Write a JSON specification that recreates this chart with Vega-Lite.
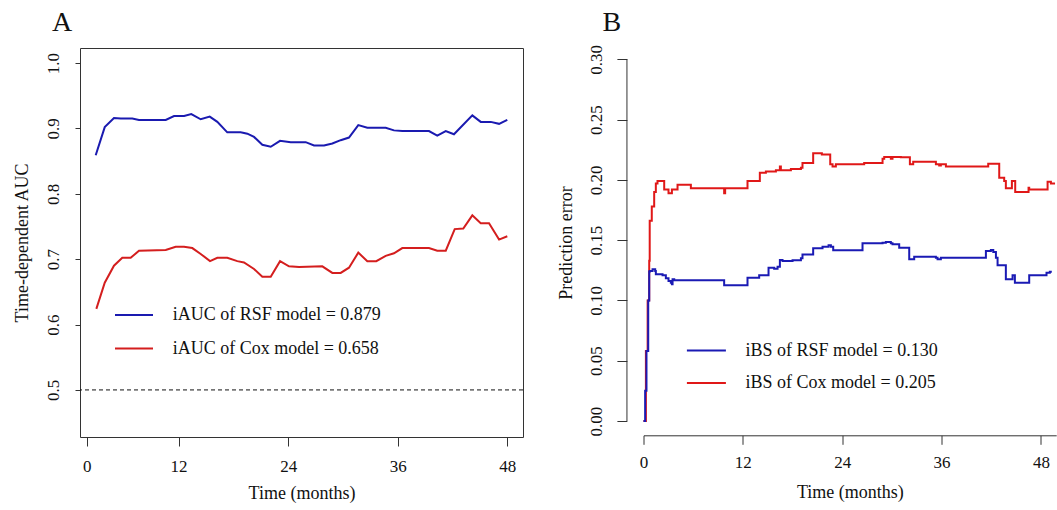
{
  "$schema": "https://vega.github.io/schema/vega-lite/v6.json",
  "background": "white",
  "padding": {"left": 12, "top": 8, "right": 0, "bottom": 0},
  "bounds": "full",
  "spacing": 33.5,
  "config": {
    "font": "Liberation Serif",
    "axis": {"labelFontSize": 17, "titleFontSize": 18, "titleFontWeight": "normal", "labelColor": "#111", "titleColor": "#111", "tickColor": "#333", "domainColor": "#333", "grid": false, "labelFlush": false, "labelOverlap": false},
    "legend": {"labelFontSize": 18, "labelFont": "Liberation Serif", "labelColor": "#111", "padding": 0, "titlePadding": 0, "labelLimit": 0},
    "title": {"fontSize": 28, "fontWeight": "normal", "anchor": "start", "frame": "group", "color": "#111"}
  },
  "datasets": {
    "aucRSF": [
      {"t": 2.92, "v": 0.859}, {"t": 3.91, "v": 0.902}, {"t": 4.92, "v": 0.916}, {"t": 5.66, "v": 0.915}, {"t": 6.93, "v": 0.915}, {"t": 7.66, "v": 0.913}, {"t": 10.59, "v": 0.913}, {"t": 11.5, "v": 0.919}, {"t": 12.6, "v": 0.919}, {"t": 13.39, "v": 0.922}, {"t": 14.42, "v": 0.914}, {"t": 15.41, "v": 0.918}, {"t": 16.24, "v": 0.910}, {"t": 17.33, "v": 0.894}, {"t": 18.8, "v": 0.894}, {"t": 19.53, "v": 0.892}, {"t": 20.26, "v": 0.887}, {"t": 21.17, "v": 0.875}, {"t": 22.09, "v": 0.872}, {"t": 23.11, "v": 0.881}, {"t": 24.28, "v": 0.879}, {"t": 25.92, "v": 0.879}, {"t": 26.83, "v": 0.874}, {"t": 27.93, "v": 0.874}, {"t": 28.84, "v": 0.877}, {"t": 29.75, "v": 0.882}, {"t": 30.66, "v": 0.886}, {"t": 31.68, "v": 0.905}, {"t": 32.67, "v": 0.901}, {"t": 34.68, "v": 0.901}, {"t": 35.59, "v": 0.897}, {"t": 36.5, "v": 0.896}, {"t": 39.42, "v": 0.896}, {"t": 40.33, "v": 0.889}, {"t": 41.26, "v": 0.896}, {"t": 42.16, "v": 0.891}, {"t": 44.17, "v": 0.920}, {"t": 45.09, "v": 0.910}, {"t": 46.19, "v": 0.910}, {"t": 47.1, "v": 0.907}, {"t": 48.0, "v": 0.913}
    ],
    "aucCox": [
      {"t": 2.99, "v": 0.624}, {"t": 3.91, "v": 0.664}, {"t": 4.92, "v": 0.690}, {"t": 5.83, "v": 0.702}, {"t": 6.75, "v": 0.702}, {"t": 7.66, "v": 0.713}, {"t": 10.59, "v": 0.714}, {"t": 11.68, "v": 0.719}, {"t": 12.59, "v": 0.719}, {"t": 13.5, "v": 0.717}, {"t": 14.42, "v": 0.708}, {"t": 15.44, "v": 0.697}, {"t": 16.24, "v": 0.702}, {"t": 17.33, "v": 0.702}, {"t": 18.43, "v": 0.697}, {"t": 19.16, "v": 0.695}, {"t": 20.26, "v": 0.685}, {"t": 21.17, "v": 0.673}, {"t": 22.09, "v": 0.673}, {"t": 23.11, "v": 0.697}, {"t": 24.09, "v": 0.689}, {"t": 25.19, "v": 0.688}, {"t": 27.74, "v": 0.689}, {"t": 28.84, "v": 0.679}, {"t": 29.75, "v": 0.679}, {"t": 30.66, "v": 0.687}, {"t": 31.68, "v": 0.710}, {"t": 32.67, "v": 0.697}, {"t": 33.65, "v": 0.697}, {"t": 34.68, "v": 0.705}, {"t": 35.59, "v": 0.709}, {"t": 36.5, "v": 0.717}, {"t": 39.42, "v": 0.717}, {"t": 40.33, "v": 0.713}, {"t": 41.26, "v": 0.713}, {"t": 42.24, "v": 0.746}, {"t": 43.18, "v": 0.747}, {"t": 44.17, "v": 0.767}, {"t": 45.09, "v": 0.755}, {"t": 46.0, "v": 0.755}, {"t": 47.1, "v": 0.730}, {"t": 48.0, "v": 0.735}
    ],
    "bsRSF": [
      {"t": 0, "v": 0}, {"t": 0.2, "v": 0.025}, {"t": 0.36, "v": 0.058}, {"t": 0.57, "v": 0.1}, {"t": 0.69, "v": 0.124}, {"t": 0.77, "v": 0.1244}, {"t": 1.09, "v": 0.1258}, {"t": 1.41, "v": 0.1244}, {"t": 1.49, "v": 0.1217}, {"t": 2.3, "v": 0.1208}, {"t": 2.7, "v": 0.1183}, {"t": 3.02, "v": 0.1161}, {"t": 3.3, "v": 0.1147}, {"t": 3.43, "v": 0.1134}, {"t": 3.51, "v": 0.1175}, {"t": 3.71, "v": 0.1167}, {"t": 9.74, "v": 0.1125}, {"t": 12.56, "v": 0.1189}, {"t": 13.97, "v": 0.1208}, {"t": 15.1, "v": 0.1272}, {"t": 15.78, "v": 0.1263}, {"t": 16.19, "v": 0.128}, {"t": 16.47, "v": 0.1335}, {"t": 16.79, "v": 0.1327}, {"t": 18.0, "v": 0.1333}, {"t": 19.01, "v": 0.1349}, {"t": 19.2, "v": 0.1382}, {"t": 20.49, "v": 0.1432}, {"t": 21.62, "v": 0.1446}, {"t": 22.35, "v": 0.1457}, {"t": 22.63, "v": 0.1446}, {"t": 22.91, "v": 0.1416}, {"t": 26.45, "v": 0.1474}, {"t": 28.87, "v": 0.1479}, {"t": 29.27, "v": 0.1485}, {"t": 29.87, "v": 0.1474}, {"t": 30.07, "v": 0.1465}, {"t": 30.88, "v": 0.1437}, {"t": 32.09, "v": 0.1341}, {"t": 32.69, "v": 0.1363}, {"t": 35.31, "v": 0.1355}, {"t": 35.51, "v": 0.1341}, {"t": 35.91, "v": 0.1355}, {"t": 41.35, "v": 0.141}, {"t": 41.95, "v": 0.1418}, {"t": 42.24, "v": 0.1402}, {"t": 42.56, "v": 0.1355}, {"t": 42.76, "v": 0.1291}, {"t": 43.76, "v": 0.1175}, {"t": 44.57, "v": 0.1208}, {"t": 44.85, "v": 0.1147}, {"t": 46.58, "v": 0.1208}, {"t": 48.67, "v": 0.123}, {"t": 49.07, "v": 0.1238}, {"t": 49.31, "v": 0.1238}
    ],
    "bsCox": [
      {"t": 0, "v": 0}, {"t": 0.29, "v": 0.058}, {"t": 0.5, "v": 0.1}, {"t": 0.69, "v": 0.133}, {"t": 0.75, "v": 0.166}, {"t": 1.0, "v": 0.178}, {"t": 1.29, "v": 0.19}, {"t": 1.49, "v": 0.197}, {"t": 1.69, "v": 0.199}, {"t": 2.5, "v": 0.192}, {"t": 3.02, "v": 0.189}, {"t": 3.43, "v": 0.192}, {"t": 4.11, "v": 0.196}, {"t": 5.72, "v": 0.193}, {"t": 9.74, "v": 0.189}, {"t": 9.86, "v": 0.193}, {"t": 12.56, "v": 0.199}, {"t": 14.05, "v": 0.206}, {"t": 14.78, "v": 0.207}, {"t": 15.99, "v": 0.208}, {"t": 16.47, "v": 0.211}, {"t": 16.59, "v": 0.208}, {"t": 17.8, "v": 0.209}, {"t": 19.01, "v": 0.21}, {"t": 19.2, "v": 0.214}, {"t": 20.49, "v": 0.222}, {"t": 21.54, "v": 0.221}, {"t": 22.55, "v": 0.213}, {"t": 22.83, "v": 0.211}, {"t": 23.23, "v": 0.213}, {"t": 26.65, "v": 0.214}, {"t": 28.87, "v": 0.2176}, {"t": 29.07, "v": 0.219}, {"t": 29.87, "v": 0.2176}, {"t": 30.07, "v": 0.219}, {"t": 31.08, "v": 0.2187}, {"t": 32.17, "v": 0.213}, {"t": 32.57, "v": 0.215}, {"t": 35.31, "v": 0.213}, {"t": 35.71, "v": 0.212}, {"t": 35.91, "v": 0.213}, {"t": 36.52, "v": 0.211}, {"t": 41.63, "v": 0.2134}, {"t": 42.96, "v": 0.2018}, {"t": 43.56, "v": 0.199}, {"t": 43.76, "v": 0.193}, {"t": 44.49, "v": 0.199}, {"t": 44.89, "v": 0.19}, {"t": 46.5, "v": 0.1935}, {"t": 46.58, "v": 0.192}, {"t": 48.8, "v": 0.1985}, {"t": 49.2, "v": 0.197}, {"t": 49.7, "v": 0.197}
    ]
  },
  "hconcat": [
    {
      "width": 443,
      "height": 389,
      "title": {"text": "A", "dx": -28, "offset": 11},
      "view": {"stroke": "#333", "strokeWidth": 1},
      "layer": [
        {
          "data": {"values": [{}]},
          "mark": {"type": "rule", "strokeDash": [4, 3], "color": "#111", "strokeWidth": 1},
          "encoding": {"y": {"datum": 0.5, "type": "quantitative", "scale": {"domain": [0.428, 1.023], "nice": false, "zero": false}}}
        },
        {
          "data": {"name": "aucRSF"},
          "mark": {"type": "line", "strokeWidth": 2},
          "encoding": {
            "x": {"field": "t", "type": "quantitative", "scale": {"domain": [1.2, 49.72], "nice": false, "zero": false},
                  "axis": {"title": "Time (months)", "values": [1.93, 12, 24, 36, 48], "labelExpr": "datum.value < 5 ? '0' : datum.label", "domain": false, "tickSize": 9, "labelPadding": 12, "titlePadding": 10}},
            "y": {"field": "v", "type": "quantitative", "scale": {"domain": [0.428, 1.023], "nice": false, "zero": false},
                  "axis": {"title": "Time-dependent AUC", "values": [0.5, 0.6, 0.7, 0.8, 0.9, 1.0], "format": ".1f", "domain": false, "tickSize": 5, "labelAngle": 270, "labelAlign": "center", "labelBaseline": "alphabetic", "labelPadding": 17, "titlePadding": 13}},
            "color": {"datum": "iAUC of RSF model = 0.879", "type": "nominal",
                      "scale": {"domain": ["iAUC of RSF model = 0.879", "iAUC of Cox model = 0.658"], "range": ["#1a1ab0", "#d41e1e"]},
                      "legend": {"orient": "none", "legendX": 34, "legendY": 247, "title": null, "symbolType": "stroke", "symbolStrokeWidth": 2, "symbolSize": 1444, "labelFontSize": 18, "labelOffset": 18.7, "rowPadding": 4.5}}
          }
        },
        {
          "data": {"name": "aucCox"},
          "mark": {"type": "line", "strokeWidth": 2},
          "encoding": {
            "x": {"field": "t", "type": "quantitative"},
            "y": {"field": "v", "type": "quantitative"},
            "color": {"datum": "iAUC of Cox model = 0.658", "type": "nominal"}
          }
        }
      ]
    },
    {
      "width": 412.7,
      "height": 389,
      "title": {"text": "B", "dx": -41, "offset": 7.5},
      "view": {"stroke": null},
      "layer": [
        {
          "data": {"values": [{}]},
          "mark": {"type": "rule", "color": "#333", "strokeWidth": 1},
          "encoding": {
            "x": {"datum": -2.0, "type": "quantitative"},
            "y": {"datum": 0, "type": "quantitative"},
            "y2": {"datum": 0.3}
          }
        },
        {
          "data": {"name": "bsCox"},
          "mark": {"type": "line", "strokeWidth": 2, "interpolate": "step-after"},
          "encoding": {
            "x": {"field": "t", "type": "quantitative", "scale": {"domain": [0, 49.84], "nice": false, "zero": false},
                  "axis": {"title": "Time (months)", "values": [0, 12, 24, 36, 48], "offset": -1.7, "tickSize": 9, "labelPadding": 10.5, "titlePadding": 13}},
            "y": {"field": "v", "type": "quantitative", "scale": {"domain": [-0.01327, 0.30937], "nice": false, "zero": false},
                  "axis": {"title": "Prediction error", "values": [0, 0.05, 0.1, 0.15, 0.2, 0.25, 0.3], "format": ".2f", "domain": false, "offset": 16.6, "tickSize": 10, "labelAngle": 270, "labelAlign": "center", "labelBaseline": "alphabetic", "labelPadding": 15, "titlePadding": 12}},
            "color": {"datum": "iBS of Cox model = 0.205", "type": "nominal",
                      "scale": {"domain": ["iBS of RSF model = 0.130", "iBS of Cox model = 0.205"], "range": ["#1a1ab4", "#e01818"]},
                      "legend": {"orient": "none", "legendX": 42.4, "legendY": 282, "title": null, "symbolType": "stroke", "symbolStrokeWidth": 2, "symbolSize": 1521, "labelFontSize": 18, "labelOffset": 18.6, "rowPadding": 2.5}}
          }
        },
        {
          "data": {"name": "bsRSF"},
          "mark": {"type": "line", "strokeWidth": 2, "interpolate": "step-after"},
          "encoding": {
            "x": {"field": "t", "type": "quantitative"},
            "y": {"field": "v", "type": "quantitative"},
            "color": {"datum": "iBS of RSF model = 0.130", "type": "nominal"}
          }
        }
      ]
    }
  ],
  "resolve": {"scale": {"color": "independent"}, "legend": {"color": "independent"}}
}
